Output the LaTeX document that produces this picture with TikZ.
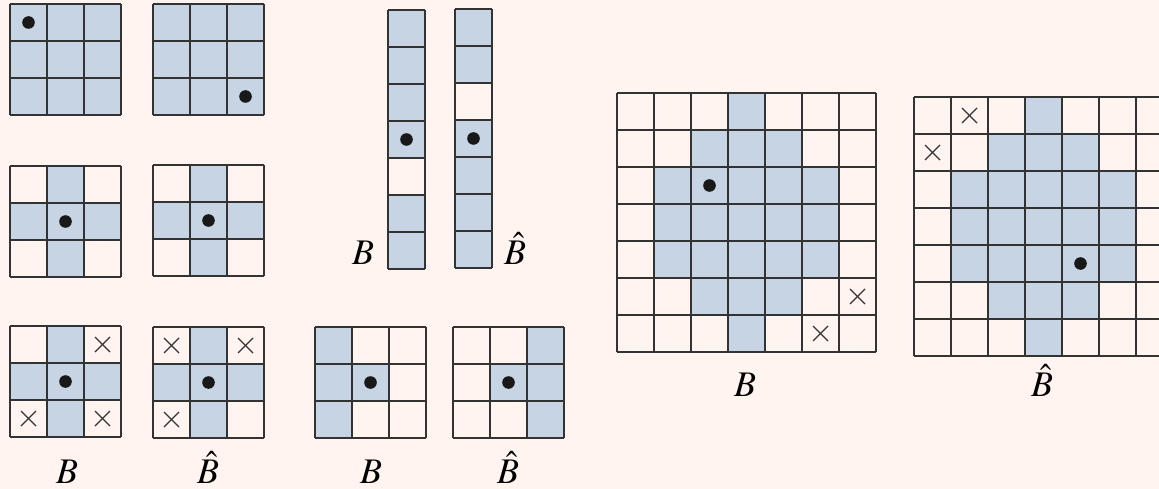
\documentclass[tikz,border=0pt]{standalone}
\usepackage{mathptmx}
\definecolor{bgc}{HTML}{FFF4EF}
\definecolor{cellblue}{HTML}{C6D4E4}
\definecolor{linec}{HTML}{333333}
\def\cellsz{37}
\newcommand\mkgrid[4]{%
  \foreach \i in {0,...,#3} \draw[gridline] ({#1+\i*\cellsz},#2) -- ({#1+\i*\cellsz},{#2+#4*\cellsz});
  \foreach \j in {0,...,#4} \draw[gridline] (#1,{#2+\j*\cellsz}) -- ({#1+#3*\cellsz},{#2+\j*\cellsz});
}
\newcommand\mkfill[3]{%
  \foreach \c/\r in {#3} \fill[cellblue] ({#1+\c*\cellsz},{#2+\r*\cellsz}) rectangle ++(\cellsz,\cellsz);
}
\newcommand\mkdot[4]{\fill[black!90] ({#1+(#3+.5)*\cellsz},{#2+(#4+.5)*\cellsz}) circle (6.3pt);}
\newcommand\mkcross[3]{%
  \foreach \c/\r in {#3} {
    \draw[crossline] ({#1+(\c+.5)*\cellsz-7.5},{#2+(\r+.5)*\cellsz-7.5}) -- ++(15,15);
    \draw[crossline] ({#1+(\c+.5)*\cellsz-7.5},{#2+(\r+.5)*\cellsz+7.5}) -- ++(15,-15);
  }
}
\tikzset{
  gridline/.style={draw=linec, line width=1.2pt},
  crossline/.style={draw=linec, line width=1.3pt},
  lbl/.style={anchor=base, inner sep=0pt, font=\fontsize{36}{42}\selectfont},
}
\begin{document}
\begin{tikzpicture}[x=1pt,y=-1pt]
\useasboundingbox (0,0) rectangle (1159,489);
\fill[bgc] (0,0) rectangle (1159,489);
\clip (0,0) rectangle (1159,489);
% row 1
\mkfill{10}{4}{0/0,1/0,2/0,0/1,1/1,2/1,0/2,1/2,2/2}
\mkgrid{10}{4}{3}{3}
\mkdot{10}{4}{0}{0}
\mkfill{153}{4}{0/0,1/0,2/0,0/1,1/1,2/1,0/2,1/2,2/2}
\mkgrid{153}{4}{3}{3}
\mkdot{153}{4}{2}{2}
% row 2
\mkfill{10}{166}{1/0,0/1,1/1,2/1,1/2}
\mkgrid{10}{166}{3}{3}
\mkdot{10}{166}{1}{1}
\mkfill{153}{165}{1/0,0/1,1/1,2/1,1/2}
\mkgrid{153}{165}{3}{3}
\mkdot{153}{165}{1}{1}
% row 3
\mkfill{10}{326}{1/0,0/1,1/1,2/1,1/2}
\mkgrid{10}{326}{3}{3}
\mkdot{10}{326}{1}{1}
\mkcross{10}{326}{2/0,0/2,2/2}
\mkfill{153}{327}{1/0,0/1,1/1,2/1,1/2}
\mkgrid{153}{327}{3}{3}
\mkdot{153}{327}{1}{1}
\mkcross{153}{327}{0/0,2/0,0/2}
\mkfill{315}{327}{0/0,0/1,0/2,1/1}
\mkgrid{315}{327}{3}{3}
\mkdot{315}{327}{1}{1}
\mkfill{453}{327}{2/0,2/1,2/2,1/1}
\mkgrid{453}{327}{3}{3}
\mkdot{453}{327}{1}{1}
% strips
\mkfill{388}{10}{0/0,0/1,0/2,0/3,0/5,0/6}
\mkgrid{388}{10}{1}{7}
\mkdot{388}{10}{0}{3}
\mkfill{455}{9}{0/0,0/1,0/3,0/4,0/5,0/6}
\mkgrid{455}{9}{1}{7}
\mkdot{455}{9}{0}{3}
% big grids
\mkfill{617}{93}{3/0,2/1,3/1,4/1,1/2,2/2,3/2,4/2,5/2,1/3,2/3,3/3,4/3,5/3,1/4,2/4,3/4,4/4,5/4,2/5,3/5,4/5,3/6}
\mkgrid{617}{93}{7}{7}
\mkdot{617}{93}{2}{2}
\mkcross{617}{93}{6/5,5/6}
\mkfill{914}{97}{3/0,2/1,3/1,4/1,1/2,2/2,3/2,4/2,5/2,1/3,2/3,3/3,4/3,5/3,1/4,2/4,3/4,4/4,5/4,2/5,3/5,4/5,3/6}
\mkgrid{914}{97}{7}{7}
\mkdot{914}{97}{4}{4}
\mkcross{914}{97}{1/0,0/1}
% labels
\node[lbl] (l1) at (67,483) {$B$};
\node[lbl] (l2) at (208,483) {$\hat{B}$};
\node[lbl] (l3) at (371,483) {$B$};
\node[lbl] (l4) at (508,483) {$\hat{B}$};
\node[lbl] (l5) at (363,264) {$B$};
\node[lbl] (l6) at (515,264) {$\hat{B}$};
\node[lbl] (l7) at (745,396) {$B$};
\node[lbl] (l8) at (1042,396) {$\hat{B}$};
\end{tikzpicture}
\end{document}
